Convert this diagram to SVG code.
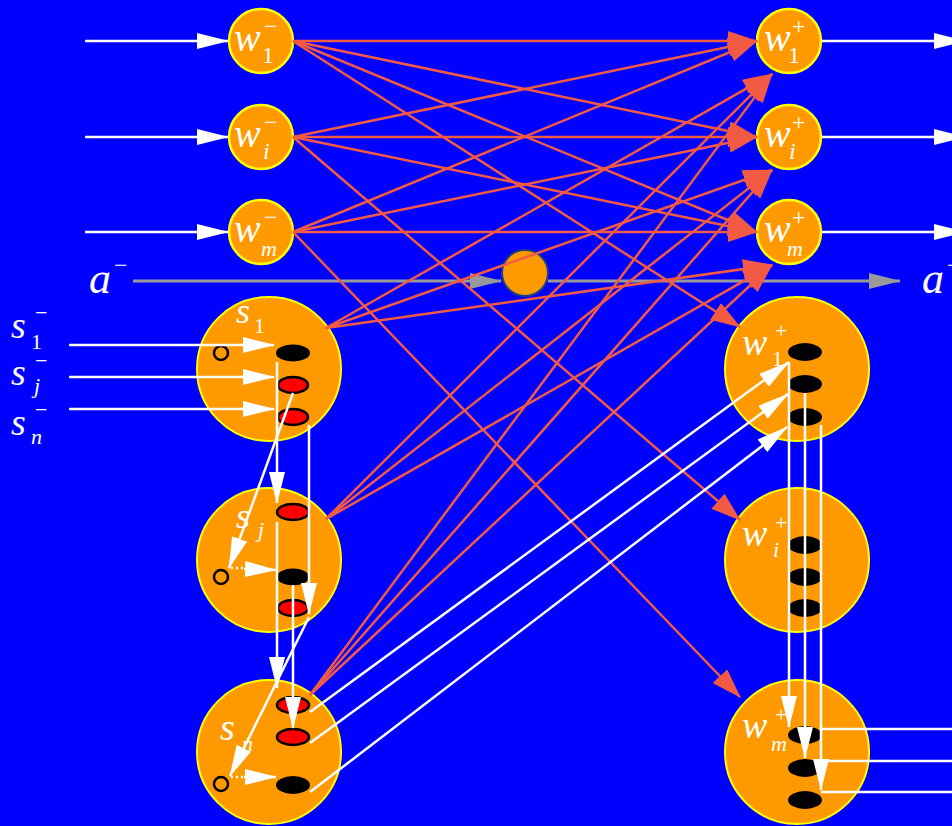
<svg xmlns="http://www.w3.org/2000/svg" width="952" height="826" viewBox="0 0 952 826">
<style>
.bg{fill:#0000FF}
.nd{fill:#FF9900;stroke:#FFFF00;stroke-width:2.5}
.big{fill:#FF9900;stroke:#FFFF00;stroke-width:2}
.mid{fill:#FF9900;stroke:#1F3F80;stroke-width:2}
.blk{fill:#000000}
.red{fill:#FF0000;stroke:#000000;stroke-width:2.5}
.ring{fill:none;stroke:#000000;stroke-width:2.5}
.t{font-family:"Liberation Serif","Times New Roman",serif;fill:#FFFFFF}
.it{font-style:italic}
.wl{stroke:#FFFFFF;stroke-width:2.5;fill:none}
.rl{stroke:#F25A44;stroke-width:2.5;fill:none}
.gl{stroke:#999999;stroke-width:3;fill:none}
.dot{stroke:#FFFFFF;stroke-width:2.5;stroke-dasharray:2 3;fill:none}
</style>
<defs>
<marker id="aw" markerUnits="userSpaceOnUse" markerWidth="32" markerHeight="16" viewBox="0 0 32 16" refX="31" refY="8" orient="auto"><path d="M0,0 L32,8 L0,16 z" fill="#FFFFFF"/></marker>
<marker id="ar" markerUnits="userSpaceOnUse" markerWidth="30" markerHeight="20" viewBox="0 0 30 20" refX="29" refY="10" orient="auto"><path d="M0,0 L30,10 L0,20 z" fill="#F25A44"/></marker>
<marker id="ag" markerUnits="userSpaceOnUse" markerWidth="32" markerHeight="16" viewBox="0 0 32 16" refX="31" refY="8" orient="auto"><path d="M0,0 L32,8 L0,16 z" fill="#999999"/></marker>
</defs>
<rect class="bg" x="0" y="0" width="952" height="826"/>

<g id="label-a-left"><text class="t"><tspan class="it" x="89" y="293" font-size="44">a</tspan><tspan x="114" y="273" font-size="24">−</tspan></text></g>
<g id="label-a-right"><text class="t"><tspan class="it" x="922" y="293" font-size="44">a</tspan><tspan x="947" y="273" font-size="24">−</tspan></text></g>

<g id="label-s1-in"><text class="t"><tspan class="it" x="11" y="338" font-size="38">s</tspan><tspan x="35" y="320" font-size="22">−</tspan><tspan x="31" y="349" font-size="22">1</tspan></text></g>
<g id="label-sj-in"><text class="t"><tspan class="it" x="11" y="385" font-size="38">s</tspan><tspan x="35" y="368" font-size="22">−</tspan><tspan class="it" x="34" y="393" font-size="22">j</tspan></text></g>
<g id="label-sn-in"><text class="t"><tspan class="it" x="11" y="435" font-size="38">s</tspan><tspan x="35" y="417" font-size="22">−</tspan><tspan class="it" x="31" y="444" font-size="22">n</tspan></text></g>

<g id="w1-minus"><circle class="nd" cx="261" cy="41" r="32"/><text class="t"><tspan class="it" x="234" y="51" font-size="40">w</tspan><tspan x="264" y="34" font-size="24">−</tspan><tspan x="262" y="63" font-size="24">1</tspan></text></g>
<g id="wi-minus"><circle class="nd" cx="261" cy="137" r="32"/><text class="t"><tspan class="it" x="234" y="147" font-size="40">w</tspan><tspan x="264" y="130" font-size="24">−</tspan><tspan class="it" x="263" y="159" font-size="24">i</tspan></text></g>
<g id="wm-minus"><circle class="nd" cx="261" cy="232" r="32"/><text class="t"><tspan class="it" x="234" y="242" font-size="40">w</tspan><tspan x="264" y="225" font-size="24">−</tspan><tspan class="it" x="261" y="256" font-size="22">m</tspan></text></g>

<g id="w1-plus"><circle class="nd" cx="789" cy="41" r="32"/><text class="t"><tspan class="it" x="764" y="51" font-size="40">w</tspan><tspan x="792" y="34" font-size="24">+</tspan><tspan x="788" y="63" font-size="24">1</tspan></text></g>
<g id="wi-plus"><circle class="nd" cx="789" cy="137" r="32"/><text class="t"><tspan class="it" x="764" y="147" font-size="40">w</tspan><tspan x="792" y="130" font-size="24">+</tspan><tspan class="it" x="789" y="159" font-size="24">i</tspan></text></g>
<g id="wm-plus"><circle class="nd" cx="789" cy="232" r="32"/><text class="t"><tspan class="it" x="764" y="242" font-size="40">w</tspan><tspan x="792" y="225" font-size="24">+</tspan><tspan class="it" x="787" y="256" font-size="22">m</tspan></text></g>

<g id="a-node"><circle class="mid" cx="525" cy="273" r="23"/></g>

<g id="s1"><circle class="big" cx="269" cy="369" r="72"/>
<text class="t"><tspan class="it" x="236" y="323" font-size="36">s</tspan><tspan x="254" y="333" font-size="22">1</tspan></text>
<circle class="ring" cx="221" cy="353" r="7"/>
<ellipse class="blk" cx="293" cy="353" rx="17" ry="8.5"/>
<ellipse class="red" cx="293" cy="385" rx="15" ry="8"/>
<ellipse class="red" cx="293" cy="417" rx="15" ry="8"/></g>

<g id="sj"><circle class="big" cx="269" cy="560" r="72"/>
<text class="t"><tspan class="it" x="236" y="528" font-size="36">s</tspan><tspan class="it" x="258" y="537" font-size="22">j</tspan></text>
<circle class="ring" cx="221" cy="577" r="7"/>
<ellipse class="red" cx="293" cy="512" rx="16" ry="8"/>
<ellipse class="blk" cx="293" cy="577" rx="16" ry="8.5"/>
<ellipse class="red" cx="293" cy="608" rx="15" ry="8"/></g>

<g id="sn"><circle class="big" cx="269" cy="752" r="72"/>
<text class="t"><tspan class="it" x="220" y="740" font-size="38">s</tspan><tspan class="it" x="242" y="751" font-size="22">n</tspan></text>
<circle class="ring" cx="221" cy="784" r="7"/>
<ellipse class="red" cx="293" cy="705" rx="16" ry="8"/>
<ellipse class="red" cx="293" cy="737" rx="16" ry="8"/>
<ellipse class="blk" cx="293" cy="785" rx="17" ry="9"/></g>

<g id="w1-plus-big"><circle class="big" cx="797" cy="369" r="72"/>
<text class="t"><tspan class="it" x="742" y="355" font-size="38">w</tspan><tspan x="775" y="338" font-size="22">+</tspan><tspan x="772" y="366" font-size="22">1</tspan></text>
<ellipse class="blk" cx="805" cy="352" rx="17" ry="9"/>
<ellipse class="blk" cx="805" cy="384" rx="17" ry="9"/>
<ellipse class="blk" cx="805" cy="417" rx="17" ry="9"/></g>

<g id="wi-plus-big"><circle class="big" cx="797" cy="560" r="72"/>
<text class="t"><tspan class="it" x="742" y="546" font-size="38">w</tspan><tspan x="775" y="530" font-size="22">+</tspan><tspan class="it" x="773" y="557" font-size="22">i</tspan></text>
<ellipse class="blk" cx="805" cy="545" rx="17" ry="9"/>
<ellipse class="blk" cx="805" cy="577" rx="17" ry="9"/>
<ellipse class="blk" cx="805" cy="608" rx="17" ry="9"/></g>

<g id="wm-plus-big"><circle class="big" cx="797" cy="752" r="72"/>
<text class="t"><tspan class="it" x="742" y="738" font-size="38">w</tspan><tspan x="775" y="722" font-size="22">+</tspan><tspan class="it" x="771" y="751" font-size="22">m</tspan></text>
<ellipse class="blk" cx="805" cy="735" rx="17" ry="9"/>
<ellipse class="blk" cx="805" cy="768" rx="17" ry="9"/>
<ellipse class="blk" cx="805" cy="800" rx="17" ry="9"/></g>

<g id="connectors">
<line class="gl" x1="133" y1="281" x2="501" y2="281" marker-end="url(#ag)"/>
<line class="gl" x1="548" y1="281" x2="900" y2="281" marker-end="url(#ag)"/>
<line class="wl" x1="85" y1="41" x2="228" y2="41" marker-end="url(#aw)"/>
<line class="wl" x1="85" y1="137" x2="228" y2="137" marker-end="url(#aw)"/>
<line class="wl" x1="85" y1="232" x2="228" y2="232" marker-end="url(#aw)"/>
<line class="wl" x1="822" y1="41" x2="965" y2="41" marker-end="url(#aw)"/>
<line class="wl" x1="822" y1="137" x2="965" y2="137" marker-end="url(#aw)"/>
<line class="wl" x1="822" y1="232" x2="965" y2="232" marker-end="url(#aw)"/>
<line class="rl" x1="293" y1="41" x2="757" y2="41" marker-end="url(#ar)"/>
<line class="rl" x1="293" y1="41" x2="757" y2="137" marker-end="url(#ar)"/>
<line class="rl" x1="293" y1="41" x2="757" y2="232" marker-end="url(#ar)"/>
<line class="rl" x1="293" y1="137" x2="757" y2="41" marker-end="url(#ar)"/>
<line class="rl" x1="293" y1="137" x2="757" y2="137" marker-end="url(#ar)"/>
<line class="rl" x1="293" y1="137" x2="757" y2="232" marker-end="url(#ar)"/>
<line class="rl" x1="293" y1="232" x2="757" y2="41" marker-end="url(#ar)"/>
<line class="rl" x1="293" y1="232" x2="757" y2="137" marker-end="url(#ar)"/>
<line class="rl" x1="293" y1="232" x2="757" y2="232" marker-end="url(#ar)"/>
<line class="rl" x1="293" y1="41" x2="740" y2="327" marker-end="url(#ar)"/>
<line class="rl" x1="293" y1="137" x2="740" y2="520" marker-end="url(#ar)"/>
<line class="rl" x1="293" y1="232" x2="740" y2="697" marker-end="url(#ar)"/>
<line class="rl" x1="326" y1="328" x2="772" y2="74" marker-end="url(#ar)"/>
<line class="rl" x1="326" y1="328" x2="772" y2="170" marker-end="url(#ar)"/>
<line class="rl" x1="326" y1="328" x2="772" y2="265" marker-end="url(#ar)"/>
<line class="rl" x1="326" y1="519" x2="772" y2="74" marker-end="url(#ar)"/>
<line class="rl" x1="326" y1="519" x2="772" y2="170" marker-end="url(#ar)"/>
<line class="rl" x1="326" y1="519" x2="772" y2="265" marker-end="url(#ar)"/>
<line class="rl" x1="310" y1="695" x2="772" y2="74" marker-end="url(#ar)"/>
<line class="rl" x1="310" y1="695" x2="772" y2="170" marker-end="url(#ar)"/>
<line class="rl" x1="310" y1="695" x2="772" y2="265" marker-end="url(#ar)"/>
<line class="wl" x1="69" y1="345" x2="274" y2="345" marker-end="url(#aw)"/>
<line class="wl" x1="69" y1="377" x2="274" y2="377" marker-end="url(#aw)"/>
<line class="wl" x1="69" y1="409" x2="274" y2="409" marker-end="url(#aw)"/>
<line class="wl" x1="277" y1="362" x2="277" y2="503" marker-end="url(#aw)"/>
<line class="wl" x1="309" y1="425" x2="309" y2="614" marker-end="url(#aw)"/>
<line class="wl" x1="293" y1="393" x2="229" y2="568" marker-end="url(#aw)"/>
<line class="dot" x1="231" y1="568" x2="244" y2="568"/>
<line class="wl" x1="244" y1="569" x2="276" y2="570" marker-end="url(#aw)"/>
<line class="wl" x1="277" y1="522" x2="277" y2="688" marker-end="url(#aw)"/>
<line class="wl" x1="293" y1="585" x2="293" y2="728" marker-end="url(#aw)"/>
<line class="wl" x1="309" y1="617" x2="230" y2="776" marker-end="url(#aw)"/>
<line class="dot" x1="231" y1="777" x2="244" y2="777"/>
<line class="wl" x1="244" y1="777" x2="276" y2="777" marker-end="url(#aw)"/>
<line class="wl" x1="310" y1="712" x2="789" y2="362" marker-end="url(#aw)"/>
<line class="wl" x1="310" y1="743" x2="788" y2="394" marker-end="url(#aw)"/>
<line class="wl" x1="310" y1="792" x2="787" y2="427" marker-end="url(#aw)"/>
<line class="wl" x1="789" y1="362" x2="789" y2="727" marker-end="url(#aw)"/>
<line class="wl" x1="805" y1="393" x2="805" y2="758" marker-end="url(#aw)"/>
<line class="wl" x1="821" y1="425" x2="821" y2="790" marker-end="url(#aw)"/>
<line class="wl" x1="821" y1="729" x2="952" y2="729"/>
<line class="wl" x1="821" y1="761" x2="952" y2="761"/>
<line class="wl" x1="821" y1="792" x2="952" y2="792"/>
</g>
</svg>
